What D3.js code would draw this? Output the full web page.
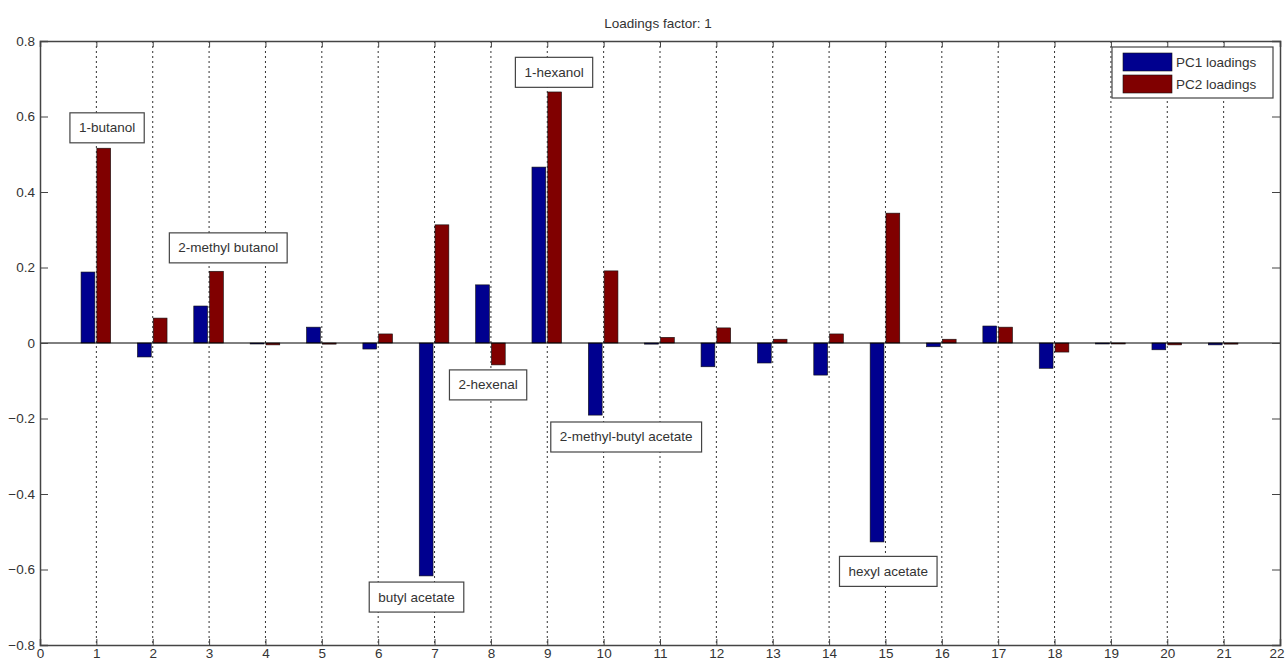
<!DOCTYPE html>
<html><head><meta charset="utf-8">
<script src="https://cdn.jsdelivr.net/npm/d3@7"></script>
<style>
body{margin:0;background:#fff;}
text{font-family:"Liberation Sans",Arial,sans-serif;}
</style></head>
<body><svg id="c" width="1285" height="663"></svg>
<script>
const categories = d3.range(1, 22);
const pc1 = [0.188,-0.037,0.098,-0.002,0.042,-0.016,-0.617,0.154,0.466,-0.191,-0.003,-0.063,-0.053,-0.085,-0.527,-0.010,0.045,-0.067,-0.002,-0.018,-0.005];
const pc2 = [0.516,0.066,0.190,-0.005,-0.003,0.024,0.313,-0.058,0.665,0.191,0.015,0.040,0.010,0.024,0.344,0.010,0.042,-0.024,-0.002,-0.005,-0.003];
const seriesNames = ["PC1 loadings","PC2 loadings"];
const seriesColors = ["#00008f","#800000"];
const xTicks = d3.range(0, 23);
const yTicks = [-0.8,-0.6,-0.4,-0.2,0,0.2,0.4,0.6,0.8];
const annotations = [
  {text:"1-butanol", x:1.19, y:0.570},
  {text:"2-methyl butanol", x:3.34, y:0.252},
  {text:"1-hexanol", x:9.12, y:0.717},
  {text:"2-hexenal", x:7.95, y:-0.111},
  {text:"2-methyl-butyl acetate", x:10.4, y:-0.249},
  {text:"butyl acetate", x:6.68, y:-0.673},
  {text:"hexyl acetate", x:15.05, y:-0.605}
];

const svg = d3.select("#c");
const L=40, R=1280, T=41, B=645;
const x = d3.scaleLinear().domain([0,22]).range([L,R]);
const y = d3.scaleLinear().domain([-0.8,0.8]).range([B,T]);
const FS = 13.5;

svg.append("text").attr("x",658).attr("y",28).attr("text-anchor","middle")
  .attr("font-size",FS).attr("fill","#333").text("Loadings factor: 1");

// grid
svg.append("g").selectAll("line").data(xTicks.filter(d=>d>0&&d<22)).join("line")
  .attr("x1",d=>x(d)).attr("x2",d=>x(d)).attr("y1",T).attr("y2",B)
  .attr("stroke","#333").attr("stroke-width",1).attr("stroke-dasharray","2,3");

// bars
const bw = (x(1)-x(0))*0.245;
const data = [];
categories.forEach((c,i)=>{ data.push({c,v:pc1[i],s:0}); data.push({c,v:pc2[i],s:1}); });
svg.append("g").selectAll("rect").data(data).join("rect")
  .attr("x",d=> d.s===0 ? x(d.c)-bw-1.5 : x(d.c)+0.5)
  .attr("width",bw)
  .attr("y",d=>y(Math.max(0,d.v)))
  .attr("height",d=>Math.max(1,Math.abs(y(d.v)-y(0))))
  .attr("fill",d=>seriesColors[d.s]).attr("stroke","#111").attr("stroke-width",0.6);

// zero line
svg.append("line").attr("x1",L).attr("x2",R).attr("y1",y(0)).attr("y2",y(0))
  .attr("stroke","#000").attr("stroke-width",1);

// axes
const xa = svg.append("g").attr("transform",`translate(0,${B})`)
  .call(d3.axisBottom(x).tickValues(xTicks).tickSize(-6).tickPadding(5).tickFormat(d3.format("d")));
const xt = svg.append("g").attr("transform",`translate(0,${T})`)
  .call(d3.axisTop(x).tickValues(xTicks).tickSize(-6).tickFormat(""));
const ya = svg.append("g").attr("transform",`translate(${L},0)`)
  .call(d3.axisLeft(y).tickValues(yTicks).tickSize(-8).tickPadding(5).tickFormat(d=>d===0?"0":d3.format(".1f")(d)));
const yr = svg.append("g").attr("transform",`translate(${R},0)`)
  .call(d3.axisRight(y).tickValues(yTicks).tickSize(-8).tickFormat(""));
[xa,xt,ya,yr].forEach(g=>{
  g.select(".domain").attr("stroke","#444").attr("stroke-width",1.5);
  g.selectAll(".tick line").attr("stroke","#444");
  g.selectAll(".tick text").attr("font-size",FS).attr("fill","#333").attr("font-family","Liberation Sans, Arial, sans-serif");
});
xa.selectAll(".tick text").attr("dy","0.62em");
xa.selectAll(".tick text").filter(d=>d===22).attr("text-anchor","end").attr("dx","4");

// annotations
const ag = svg.append("g");
annotations.forEach(a=>{
  const g = ag.append("g");
  const t = g.append("text").attr("x",x(a.x)).attr("y",y(a.y)).attr("text-anchor","middle")
    .attr("dominant-baseline","central").attr("font-size",FS).attr("fill","#333").text(a.text);
  const bb = t.node().getBBox();
  g.insert("rect","text").attr("x",bb.x-9).attr("y",y(a.y)-15).attr("width",bb.width+18).attr("height",30)
    .attr("fill","#fff").attr("stroke","#444").attr("stroke-width",1.2);
});

// legend
const lg = svg.append("g").attr("transform","translate(1112,47)");
lg.append("rect").attr("width",161).attr("height",51).attr("fill","#fff").attr("stroke","#444").attr("stroke-width",1.2);
seriesNames.forEach((n,i)=>{
  lg.append("rect").attr("x",11).attr("y",6+i*22).attr("width",49).attr("height",18)
    .attr("fill",seriesColors[i]).attr("stroke","#111").attr("stroke-width",0.6);
  lg.append("text").attr("x",64).attr("y",15+i*22).attr("dominant-baseline","central")
    .attr("font-size",FS).attr("fill","#333").text(n);
});
</script></body></html>
